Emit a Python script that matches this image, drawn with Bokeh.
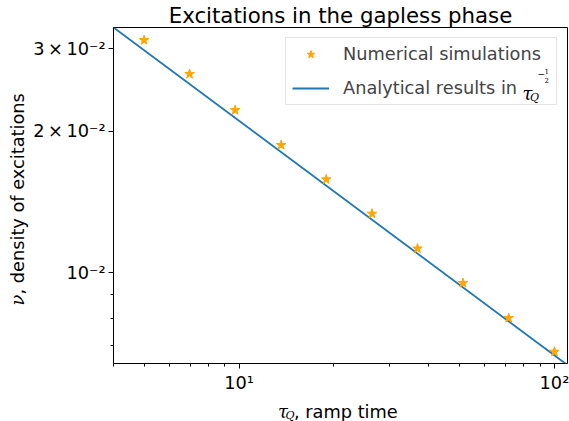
import math
from bokeh.plotting import figure
from bokeh.models import FixedTicker, Range1d, Legend, LegendItem
from bokeh.core.properties import value
from bokeh.embed import file_html
from bokeh.resources import INLINE

# ---- data ----
tau_sim = [5.0, 6.97, 9.72, 13.6, 18.9, 26.4, 36.8, 51.3, 71.6, 100.0]
nu_sim = [0.0313, 0.0265, 0.0222, 0.0187, 0.0158, 0.01335, 0.01125, 0.0095, 0.0080, 0.00678]
tau_line = [4.0, 110.0]
nu_line = [0.0333, 0.00635]

x_major = [10, 100]
x_major_labels = ["10¹", "10²"]
x_minor = [4, 5, 6, 7, 8, 9, 20, 30, 40, 50, 60, 70, 80, 90]
y_major = [0.01, 0.02, 0.03]
y_major_labels = ["10⁻²", "2\u2009×\u200910⁻²", "3\u2009×\u200910⁻²"]
y_minor = [0.007, 0.008, 0.009]

title_text = "Excitations in the gapless phase"
legend_labels = ["Numerical simulations", "Analytical results in"]

FONT = "DejaVu Sans"
SERIF = "DejaVu Serif"
FS = "17.75px"

x_lo, x_hi = 4.0, 110.0
y_lo, y_hi = 0.0064, 0.0333

p = figure(width=569, height=421, x_axis_type="log", y_axis_type="log",
           x_range=Range1d(x_lo, x_hi), y_range=Range1d(y_lo, y_hi),
           output_backend="svg", toolbar_location=None,
           min_border_left=113, min_border_right=2, min_border_top=26, min_border_bottom=58,
           title=title_text)
p.background_fill_color = "white"
p.border_fill_color = "white"
p.outline_line_color = "black"
p.outline_line_width = 1
p.xgrid.visible = False
p.ygrid.visible = False

p.title.text_font = FONT
p.title.text_font_size = "21.3px"
p.title.text_font_style = "normal"
p.title.text_color = "black"
p.title.align = "center"
p.title.standoff = 0

p.xaxis.ticker = FixedTicker(ticks=x_major, minor_ticks=x_minor)
p.xaxis.major_label_overrides = dict(zip(x_major, x_major_labels))
p.yaxis.ticker = FixedTicker(ticks=y_major, minor_ticks=y_minor)
p.yaxis.major_label_overrides = dict(zip(y_major, y_major_labels))

for ax in (p.xaxis, p.yaxis):
    ax.axis_line_color = "black"
    ax.axis_line_width = 1
    ax.major_tick_line_color = "black"
    ax.minor_tick_line_color = "black"
    ax.major_tick_out = 5
    ax.major_tick_in = 0
    ax.minor_tick_out = 3
    ax.minor_tick_in = 0
    ax.major_label_text_font = FONT
    ax.major_label_text_font_size = FS
    ax.major_label_text_color = "black"
p.xaxis.major_label_standoff = 4
p.yaxis.major_label_standoff = 3

line = p.line(tau_line, nu_line, line_color="#1f77b4", line_width=1.8)
stars = p.scatter(tau_sim, nu_sim, marker="star", size=10,
                  fill_color="#ffa500", line_color="#ffa500")

legend = Legend(items=[LegendItem(label=legend_labels[0], renderers=[stars]),
                       LegendItem(label=legend_labels[1], renderers=[line])],
                location="top_right", margin=10, padding=6, spacing=14,
                glyph_width=37, glyph_height=20, label_height=20, label_width=207,
                label_standoff=14, label_text_font=FONT, label_text_font_size=FS,
                border_line_color="#cccccc", border_line_width=1,
                background_fill_color="white", background_fill_alpha=0.0)
p.add_layout(legend)


def txt(s, dx, dy, size, font=FONT, style="normal", angle=0.0,
        align="left", baseline="alphabetic"):
    # anchored at the frame's bottom-left corner, offset in pixels
    p.text(x=[x_lo], y=[y_lo], text=[s], x_offset=dx, y_offset=dy,
           text_font=value(font), text_font_size=value(size),
           text_font_style=style, angle=angle, text_align=align,
           text_baseline=baseline, text_color="black", level="overlay")

# legend math tail: tau_Q^{-1/2}
txt("τ", 409, -270, FS, SERIF, "italic")
txt("Q", 416.5, -266.5, "11px", SERIF, "italic")
txt("−", 424, -290, "9px", SERIF, "normal", baseline="middle")
txt("1", 431, -292.5, "7px", SERIF, "normal", baseline="middle")
txt("2", 431, -284, "7px", SERIF, "normal", baseline="middle")

# x axis label: tau_Q, ramp time
txt("τ", 164.5, 48.5, FS, SERIF, "italic")
txt("Q", 172, 51.5, "11px", SERIF, "italic")
txt(", ramp time", 180.5, 48.5, FS)

# y axis label: nu, density of excitations
txt("ν", -96, -58, FS, SERIF, "italic", angle=math.pi / 2)
txt(", density of excitations", -96, -69, FS, angle=math.pi / 2)

open("out.html", "w").write(file_html(p, INLINE))
